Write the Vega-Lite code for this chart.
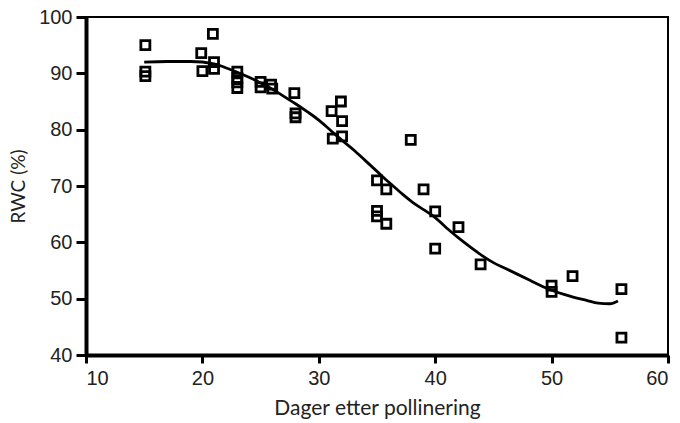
{
  "$schema": "https://vega.github.io/schema/vega-lite/v6.json",
  "width": 582,
  "height": 338,
  "autosize": {"type": "none"},
  "padding": {"left": 86, "top": 17, "right": 12, "bottom": 68},
  "background": "white",
  "config": {
    "view": {"stroke": "black", "strokeWidth": 2},
    "axis": {
      "domainColor": "black",
      "domainWidth": 4,
      "tickColor": "black",
      "tickWidth": 3,
      "grid": false,
      "labelFont": "Liberation Sans",
      "labelFontSize": 20,
      "labelColor": "#222",
      "titleFont": "Lato",
      "titleFontWeight": "normal",
      "titleColor": "#222"
    }
  },
  "datasets": {
    "pts": [
      {"x": 15.1, "y": 95.0}, {"x": 15.1, "y": 90.3}, {"x": 15.1, "y": 89.5},
      {"x": 19.9, "y": 93.6}, {"x": 20.0, "y": 90.4},
      {"x": 20.9, "y": 97.0}, {"x": 21.0, "y": 92.0}, {"x": 21.0, "y": 90.8},
      {"x": 23.0, "y": 90.3}, {"x": 23.0, "y": 89.2}, {"x": 23.0, "y": 88.4}, {"x": 23.0, "y": 87.4},
      {"x": 25.0, "y": 88.5}, {"x": 25.0, "y": 87.5}, {"x": 25.9, "y": 88.0}, {"x": 26.0, "y": 87.3},
      {"x": 27.9, "y": 86.5}, {"x": 28.0, "y": 82.9}, {"x": 28.0, "y": 82.2},
      {"x": 31.1, "y": 83.3}, {"x": 31.2, "y": 78.4}, {"x": 31.9, "y": 85.0}, {"x": 32.0, "y": 81.5}, {"x": 32.0, "y": 78.8},
      {"x": 35.0, "y": 71.0}, {"x": 35.8, "y": 69.4}, {"x": 35.0, "y": 65.6}, {"x": 35.0, "y": 64.6}, {"x": 35.8, "y": 63.3},
      {"x": 37.9, "y": 78.2}, {"x": 39.0, "y": 69.4}, {"x": 40.0, "y": 65.5}, {"x": 40.0, "y": 58.9},
      {"x": 42.0, "y": 62.7}, {"x": 43.9, "y": 56.1},
      {"x": 50.0, "y": 52.3}, {"x": 50.0, "y": 51.2}, {"x": 51.8, "y": 54.0},
      {"x": 56.0, "y": 51.7}, {"x": 56.0, "y": 43.1}
    ],
    "fit": [
      {"x": 15, "y": 92.0}, {"x": 17, "y": 92.1}, {"x": 19, "y": 92.1}, {"x": 21, "y": 91.7},
      {"x": 22, "y": 91.0}, {"x": 23, "y": 90.2}, {"x": 24, "y": 89.3}, {"x": 25, "y": 88.3},
      {"x": 26, "y": 87.2}, {"x": 27, "y": 85.9}, {"x": 28, "y": 84.6}, {"x": 29, "y": 83.2},
      {"x": 30, "y": 81.7}, {"x": 31, "y": 79.9}, {"x": 32, "y": 78.1}, {"x": 33, "y": 76.4},
      {"x": 34, "y": 74.5}, {"x": 35, "y": 72.6}, {"x": 36, "y": 70.7}, {"x": 37, "y": 68.9},
      {"x": 38, "y": 67.2}, {"x": 39, "y": 65.8}, {"x": 40, "y": 64.4}, {"x": 41, "y": 62.5},
      {"x": 42, "y": 60.8}, {"x": 43, "y": 59.2}, {"x": 44, "y": 57.7}, {"x": 45, "y": 56.4},
      {"x": 46, "y": 55.4}, {"x": 47, "y": 54.4}, {"x": 48, "y": 53.4}, {"x": 49, "y": 52.4},
      {"x": 50, "y": 51.5}, {"x": 51, "y": 50.8}, {"x": 52, "y": 50.2}, {"x": 53, "y": 49.7},
      {"x": 54, "y": 49.2}, {"x": 55, "y": 49.1}, {"x": 55.7, "y": 49.6}
    ]
  },
  "layer": [
    {
      "data": {"name": "fit"},
      "mark": {"type": "line", "color": "black", "strokeWidth": 2.8, "interpolate": "monotone"},
      "encoding": {
        "x": {"field": "x", "type": "quantitative", "scale": {"domain": [10, 60], "nice": false, "zero": false},
              "axis": {"title": "Dager etter pollinering", "values": [10, 20, 30, 40, 50, 60], "tickSize": 8, "labelPadding": 5, "titlePadding": 9, "titleFontSize": 21}},
        "y": {"field": "y", "type": "quantitative", "scale": {"domain": [40, 100], "nice": false, "zero": false},
              "axis": {"title": "RWC (%)", "values": [40, 50, 60, 70, 80, 90, 100], "tickSize": 10, "labelPadding": 4, "titlePadding": 10, "titleFontSize": 19}}
      }
    },
    {
      "data": {"name": "pts"},
      "mark": {"type": "point", "shape": "square", "filled": false, "color": "black", "strokeWidth": 2.8, "size": 81, "opacity": 1},
      "encoding": {
        "x": {"field": "x", "type": "quantitative"},
        "y": {"field": "y", "type": "quantitative"}
      }
    }
  ]
}
